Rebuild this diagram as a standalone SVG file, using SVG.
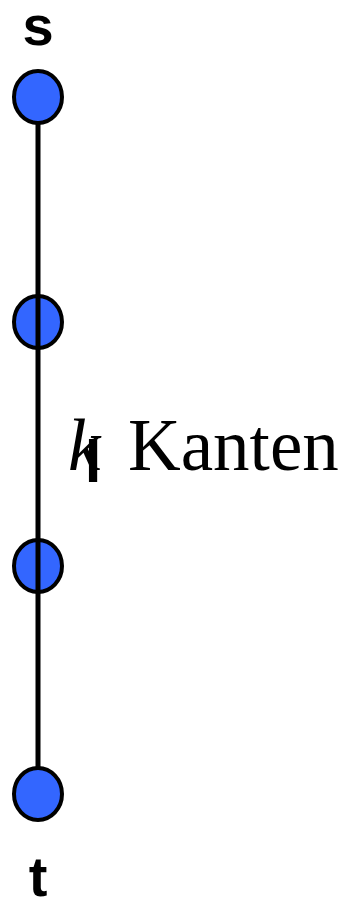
<svg xmlns="http://www.w3.org/2000/svg" width="348" height="901" viewBox="0 0 348 901">
<style>
.node{fill:#3366FF;stroke:#000;stroke-width:4}
.edge{stroke:#000;stroke-width:5;fill:none}
.lbl{font-family:"Liberation Sans",Arial,sans-serif;font-weight:bold;font-size:56px;text-anchor:middle}
.serif{font-family:"Liberation Serif","Times New Roman",serif;font-size:73px}
</style>
<rect width="348" height="901" fill="#fff"/>
<g id="s"><ellipse class="node" cx="38" cy="97" rx="24" ry="26"/></g>
<g id="v1"><ellipse class="node" cx="38" cy="322" rx="24" ry="26"/></g>
<g id="v2"><ellipse class="node" cx="38" cy="566" rx="24" ry="26"/></g>
<g id="t"><ellipse class="node" cx="38" cy="794" rx="24" ry="26"/></g>
<g id="connectors">
<line class="edge" x1="38" y1="124" x2="38" y2="767"/>
</g>
<text class="lbl" x="38" y="45">s</text>
<text class="lbl" x="38" y="896">t</text>
<g id="label">
<text class="serif" x="68" y="470" font-style="italic">k</text>
<text x="93" y="482" font-family="Liberation Sans,Arial,sans-serif" font-weight="bold" font-size="60" text-anchor="middle">l</text>
<text class="serif" x="128" y="470">Kanten</text>
</g>
</svg>
